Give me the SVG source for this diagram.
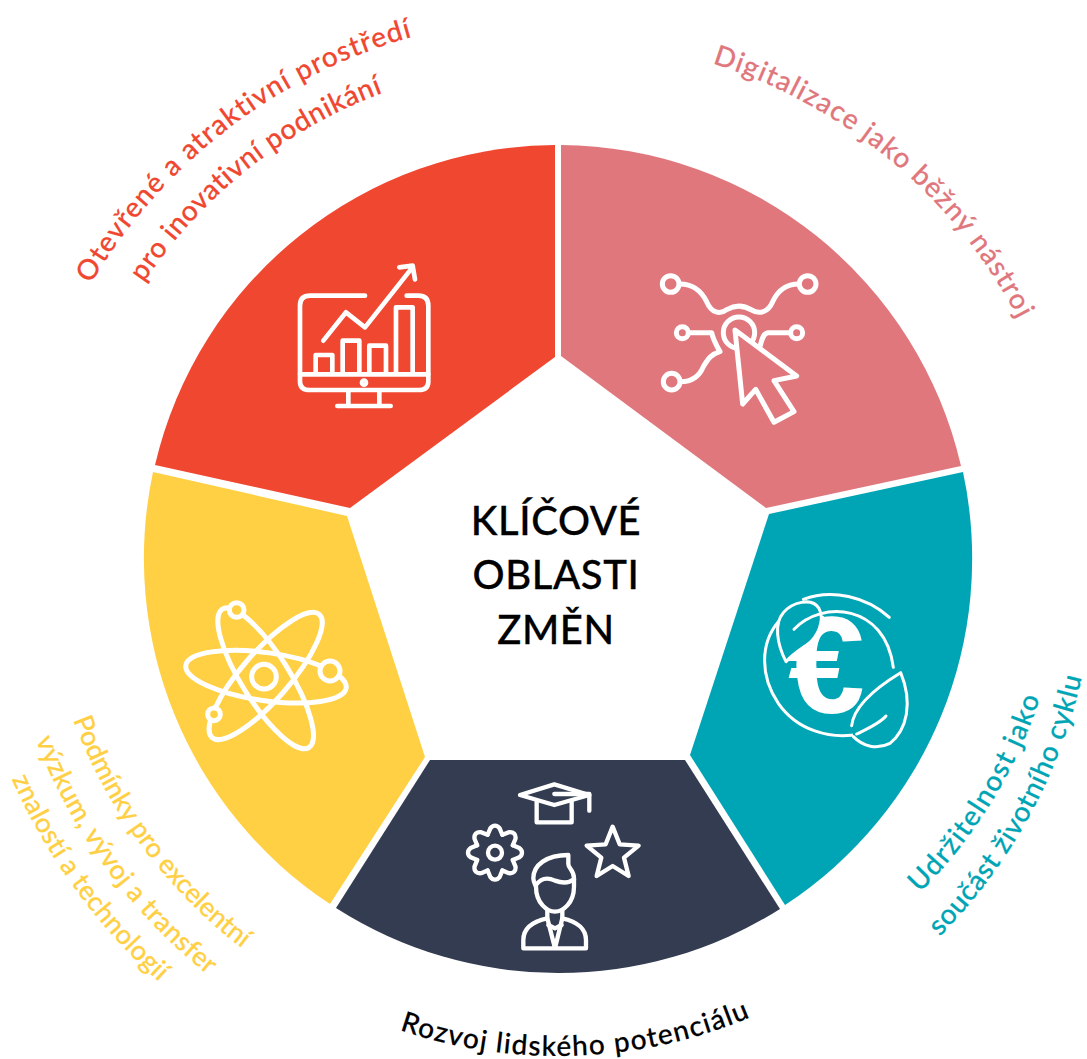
<svg xmlns="http://www.w3.org/2000/svg" xmlns:xlink="http://www.w3.org/1999/xlink" width="1087" height="1059" viewBox="0 0 1087 1059">
<style>
.lbl{font-family:"Lato","Noto Sans",sans-serif;font-size:28px;font-weight:500;stroke-width:.2px}
.ctr{font-family:"Lato","Noto Sans",sans-serif;font-size:40px;font-weight:500;text-anchor:middle;fill:#000;stroke:#000;stroke-width:.3px;letter-spacing:.6px}
.ic{fill:none;stroke:#fff;stroke-linecap:round;stroke-linejoin:round}
</style>
<defs>
<path id="cw519" d="M558 40A519 519 0 1 1 558 1078A519 519 0 1 1 558 40"/>
<path id="cw498" d="M558 61A498 498 0 1 1 558 1057A498 498 0 1 1 558 61"/>
<path id="cw542" d="M558 17A542 542 0 1 1 558 1101A542 542 0 1 1 558 17"/>
<path id="ccw513" d="M558 46A513 513 0 1 0 558 1072A513 513 0 1 0 558 46"/>
<path id="ccw555" d="M558 4A555 555 0 1 0 558 1114A555 555 0 1 0 558 4"/>
<path id="ccw592" d="M558 -33A592 592 0 1 0 558 1151A592 592 0 1 0 558 -33"/>
<path id="ccw493" d="M558 66A493 493 0 1 0 558 1052A493 493 0 1 0 558 66"/>
<path id="ccw537" d="M558 22A537 537 0 1 0 558 1096A537 537 0 1 0 558 22"/>
<path id="ccw497" d="M558 62A497 497 0 1 0 558 1056A497 497 0 1 0 558 62"/>
<path id="tooth" d="M-22 -53.6L-14 -73Q-8 -81 0 -81Q8 -81 14 -73L22 -53.6"/>
</defs>
<g id="node-digital">
<path fill="#e0777d" d="M561 145A414 414 0 0 1 961 466L766 508L561 356Z"/>
<g class="ic" transform="translate(640 250) scale(.3333)" stroke-width="15">
<circle cx="92" cy="102" r="25"/><circle cx="503" cy="102" r="25"/>
<circle cx="127" cy="248" r="18"/><circle cx="470" cy="248" r="18"/><circle cx="95" cy="395" r="25"/>
<path d="M120 102C160 102 185 125 200 155C215 190 240 195 262 178C285 165 310 165 335 180C360 195 385 185 398 155C412 125 435 102 476 102"/>
<path d="M147 248H215C220 270 228 285 240 305C215 312 205 325 190 350C175 385 150 395 122 395"/>
<path d="M450 248H385C370 248 365 270 360 290"/>
<circle cx="297" cy="248" r="47"/>
<path fill="#e0777d" d="M285 240L470 378L402 392L462 485L402 517L347 418L308 462Z"/>
</g>
</g>
<g id="node-sustainability">
<path fill="#00a5b5" d="M963 472A414 414 0 0 1 785 905L690 755L769 514Z"/>
<text x="788" y="713" font-family="'Liberation Sans',sans-serif" font-weight="700" font-size="138" fill="#fff">€</text>
<g class="ic" transform="translate(750 580) scale(.3333)" stroke-width="9">
<path d="M160 58C245 25 350 50 418 112"/>
<path d="M85 125C30 190 30 290 85 370C140 450 240 480 330 462"/>
<path fill="#00a5b5" d="M108 245C80 190 72 130 100 98C125 68 185 50 207 85C225 120 205 170 170 195C145 212 125 225 108 245Z"/>
<path d="M132 148C215 60 405 70 430 262"/>
<path d="M218 112C215 160 195 185 170 200"/>
<path fill="#00a5b5" d="M305 437C310 390 350 340 452 278C490 370 470 450 420 490C380 510 340 500 310 470"/>
<path d="M320 462C355 445 390 430 408 408"/>
</g>
</g>
<g id="node-people">
<path fill="#333c50" d="M780 909A414 414 0 0 1 336 908L430 760H685Z"/>
<g class="ic" transform="translate(460 770) scale(.3333)" stroke-width="13">
<path d="M180 75L283 43L388 75L283 105Z"/>
<path d="M230 95V157H335V95"/>
<path d="M283 72H388V122"/>
<g transform="translate(105 248)"><use xlink:href="#tooth" href="#tooth"/><use href="#tooth" xlink:href="#tooth" transform="rotate(45)"/><use href="#tooth" xlink:href="#tooth" transform="rotate(90)"/><use href="#tooth" xlink:href="#tooth" transform="rotate(135)"/><use href="#tooth" xlink:href="#tooth" transform="rotate(180)"/><use href="#tooth" xlink:href="#tooth" transform="rotate(225)"/><use href="#tooth" xlink:href="#tooth" transform="rotate(270)"/><use href="#tooth" xlink:href="#tooth" transform="rotate(315)"/><circle r="21"/></g>
<path d="M458 170L479 223L536 227L492 263L506 318L458 288L410 318L424 263L380 227L437 223Z"/>
<path d="M228 350C228 400 262 425 285 425C308 425 342 400 342 350V325C342 300 325 295 325 282V255C260 255 220 285 220 325C220 335 224 342 228 350Z"/>
<path d="M228 345Q250 315 285 332Q320 345 342 328"/>
<path d="M262 420V445M307 420V445"/>
<path d="M190 535V510C190 475 215 455 262 445L285 535L307 445C355 455 378 480 378 510V535Z"/>
<path d="M265 465L285 475L305 465"/>
</g>
</g>
<g id="node-research">
<path fill="#ffd043" d="M330 904A414 414 0 0 1 153 472L347 516L425 757Z"/>
<g class="ic" transform="translate(170 590) scale(.3333)" stroke-width="15">
<ellipse cx="288" cy="260" rx="243" ry="72" transform="rotate(8 288 260)"/>
<ellipse cx="287" cy="265" rx="245" ry="72" transform="rotate(58 287 265)"/>
<ellipse cx="287" cy="258" rx="245" ry="72" transform="rotate(-49 287 258)"/>
<circle cx="282" cy="260" r="37"/>
<circle cx="200" cy="60" r="22" fill="#ffd043"/>
<circle cx="480" cy="243" r="30" fill="#ffd043"/>
<circle cx="132" cy="373" r="19" fill="#ffd043"/>
</g>
</g>
<g id="node-open">
<path fill="#f04730" d="M555 145V357L350 508L155 465A414 414 0 0 1 555 145Z"/>
<g class="ic" transform="translate(280 250) scale(.3333)" stroke-width="14">
<path d="M255 137H90Q60 137 60 167V395Q60 420 90 420H415Q445 420 445 395V167Q445 137 415 137H380"/>
<path d="M60 373H445M205 425V468M298 425V468M172 468H332"/>
<circle cx="252" cy="398" r="6"/>
<path d="M107 370V315H157V370M188 370V272H238V370M268 370V287H318V370M348 370V172H398V370"/>
<path d="M130 272L198 187L255 232L395 55M358 52L398 47L405 88"/>
</g>
</g>
<g id="node-center">
<text class="ctr" x="556" y="535">KLÍČOVÉ</text>
<text class="ctr" x="556" y="589">OBLASTI</text>
<text class="ctr" x="556" y="644">ZMĚN</text>
</g>
<g id="labels" class="lbl">
<text fill="#e0777d" stroke="#e0777d" transform="rotate(17.3 558 559)"><textPath href="#cw519" letter-spacing="1.3">Digitalizace jako běžný nástroj</textPath></text>
<text fill="#f04730" stroke="#f04730" transform="rotate(-59.5 558 559)"><textPath href="#cw542" letter-spacing="1.2">Otevřené a atraktivní prostředí</textPath></text>
<text fill="#f04730" stroke="#f04730" transform="rotate(-56.3 558 559)"><textPath href="#cw498" letter-spacing=".6">pro inovativní podnikání</textPath></text>
<text fill="#ffd043" stroke="#ffd043" transform="translate(-4 -18) rotate(-110.4 558 559)" style="font-size:27px"><textPath href="#ccw513" letter-spacing="-.2">Podmínky pro excelentní</textPath></text>
<text fill="#ffd043" stroke="#ffd043" transform="translate(-4 -18) rotate(-111 558 559)" style="font-size:27px"><textPath href="#ccw555" letter-spacing=".3">výzkum, vývoj a transfer</textPath></text>
<text fill="#ffd043" stroke="#ffd043" transform="translate(-4 -18) rotate(-113.7 558 559)" style="font-size:27px"><textPath href="#ccw592" letter-spacing=".15">znalostí a technologií</textPath></text>
<text fill="#00a5b5" stroke="#00a5b5" transform="translate(13.8 -15.3) rotate(135.1 558 559)"><textPath href="#ccw493" letter-spacing="1.4">Udržitelnost jako</textPath></text>
<text fill="#00a5b5" stroke="#00a5b5" transform="rotate(134.7 558 559)"><textPath href="#ccw537" letter-spacing=".6">součást životního cyklu</textPath></text>
<text fill="#000" stroke="#000" transform="rotate(198.6 558 559)"><textPath href="#ccw497" letter-spacing="1.3">Rozvoj lidského potenciálu</textPath></text>
</g>
<g id="connectors"/>
</svg>
